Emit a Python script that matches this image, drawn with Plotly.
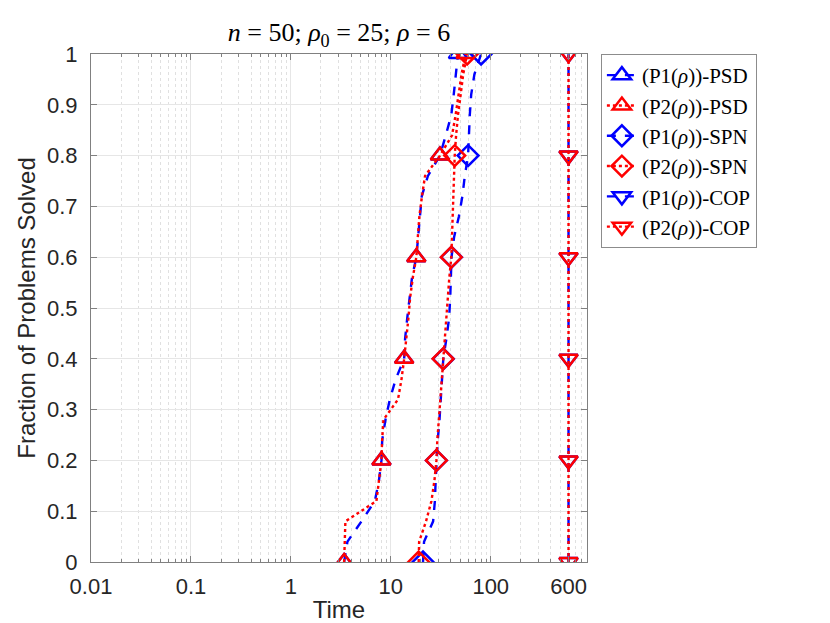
import plotly.graph_objects as go

# fraction of problems solved (y) for every curve
fraction = [0, 0.04, 0.08, 0.12, 0.16, 0.2, 0.24, 0.28, 0.32, 0.36, 0.4, 0.44, 0.48,
            0.52, 0.56, 0.6, 0.64, 0.68, 0.72, 0.76, 0.8, 0.84, 0.88, 0.92, 0.96, 1.0]

# time needed to reach each fraction
p1_psd = [3.41, 3.68, 5.08, 6.92, 7.6, 8.06, 8.2, 8.84, 9.77, 11.2, 13.6, 13.9, 14.6,
          15.3, 16.3, 18.0, 18.7, 19.4, 20.4, 23.5, 31.0, 35.5, 40.3, 42.6, 44.7, 47.0]
p2_psd = [3.41, 3.45, 3.51, 7.18, 7.64, 8.06, 8.19, 8.44, 11.8, 12.8, 13.6, 14.4, 15.0,
          15.6, 16.6, 18.0, 18.6, 19.3, 20.5, 22.0, 31.0, 41.0, 44.5, 47.5, 51.0, 56.0]
p1_spn = [21.0, 21.5, 26.5, 27.6, 28.1, 28.6, 29.5, 30.7, 31.5, 32.3, 33.5, 36.0, 38.3,
          39.3, 40.0, 40.5, 43.0, 48.0, 52.0, 55.0, 59.3, 60.3, 61.7, 63.7, 68.6, 80.0]
p2_spn = [19.0, 19.2, 22.5, 25.5, 27.3, 28.6, 29.2, 30.2, 31.0, 32.0, 33.3, 34.5, 35.8,
          37.0, 38.5, 40.3, 40.8, 41.3, 41.9, 42.6, 43.6, 45.0, 47.0, 50.0, 53.0, 58.0]
p1_cop = [600, 600, 600, 600, 600, 600, 600, 600, 600, 600, 600, 600, 600,
          600, 600, 600, 600, 600, 600, 600, 600, 600, 600, 600, 600, 600]
p2_cop = [600, 600, 600, 600, 600, 600, 600, 600, 600, 600, 600, 600, 600,
          600, 600, 600, 600, 600, 600, 600, 600, 600, 600, 600, 600, 600]

x_tickvals = [0.01, 0.1, 1, 10, 100, 600]
x_ticktext = ["0.01", "0.1", "1", "10", "100", "600"]

BLUE = "#0000ff"
RED = "#ff0000"
MARK_EVERY = 5

# minor log gridlines (2..9 in every decade), skipping the 600 major tick
minor_vals = [m * 10.0 ** e for e in range(-2, 3) for m in range(2, 10) if m * 10.0 ** e != 600]

series = [
    ("(P1(<i>ρ</i>))-PSD", p1_psd, BLUE, "dash", "triangle-up-open"),
    ("(P2(<i>ρ</i>))-PSD", p2_psd, RED, "dot", "triangle-up-open"),
    ("(P1(<i>ρ</i>))-SPN", p1_spn, BLUE, "dash", "diamond-open"),
    ("(P2(<i>ρ</i>))-SPN", p2_spn, RED, "dot", "diamond-open"),
    ("(P1(<i>ρ</i>))-COP", p1_cop, BLUE, "dash", "triangle-down-open"),
    ("(P2(<i>ρ</i>))-COP", p2_cop, RED, "dot", "triangle-down-open"),
]

fig = go.Figure()

for name, xs, colour, dash, symbol in series:
    line = dict(color=colour, width=2.4, dash=dash)
    marker = dict(symbol=symbol, size=16, color=colour, line=dict(color=colour, width=2.5))
    fig.add_trace(go.Scatter(x=xs, y=fraction, mode="lines", line=line,
                             showlegend=False, hoverinfo="skip"))
    fig.add_trace(go.Scatter(x=xs[::MARK_EVERY], y=fraction[::MARK_EVERY], mode="markers",
                             marker=marker, showlegend=False, name=name))
    # legend entry only
    fig.add_trace(go.Scatter(x=[None], y=[None], mode="lines+markers", name=name,
                             line=line, marker=marker))

axis_font = dict(family="Liberation Sans, Arial, sans-serif", size=22, color="#262626")
label_font = dict(family="Liberation Sans, Arial, sans-serif", size=24, color="#262626")

fig.update_layout(
    width=830,
    height=623,
    margin=dict(l=83, r=251, t=46, b=69),
    paper_bgcolor="white",
    plot_bgcolor="white",
    title=dict(
        text="<i>n</i> = 50; <i>ρ</i><sub>0</sub> = 25; <i>ρ</i> = 6",
        font=dict(family="Liberation Serif, serif", size=26, color="black"),
        x=0.5, xref="paper", xanchor="center",
        y=1 - 24 / 623, yanchor="middle",
    ),
    legend=dict(
        x=1.028, xanchor="left", y=1.0, yanchor="top",
        bgcolor="white", bordercolor="#8c8c8c", borderwidth=1,
        font=dict(family="Liberation Serif, serif", size=21, color="black"),
        itemwidth=30,
        tracegroupgap=0,
    ),
)

fig.update_xaxes(
    type="log",
    range=[-2, 2.963],
    tickmode="array",
    tickvals=x_tickvals,
    ticktext=x_ticktext,
    tickfont=axis_font,
    ticks="inside",
    ticklen=6,
    tickcolor="#808080",
    ticklabelstandoff=5,
    showline=True,
    linecolor="#808080",
    linewidth=1,
    mirror="allticks",
    showgrid=True,
    gridcolor="#e6e6e6",
    gridwidth=1,
    zeroline=False,
    minor=dict(tickmode="array", tickvals=minor_vals, ticks="inside", ticklen=3,
               tickcolor="#808080", showgrid=True, gridcolor="#e0e0e0",
               griddash="dot", gridwidth=1),
    title=dict(text="Time", font=label_font, standoff=2),
)

fig.update_yaxes(
    range=[0, 1],
    dtick=0.1,
    tickformat="~g",
    tickfont=axis_font,
    ticks="inside",
    ticklen=6,
    tickcolor="#808080",
    ticklabelstandoff=8,
    showline=True,
    linecolor="#808080",
    linewidth=1,
    mirror="allticks",
    showgrid=True,
    gridcolor="#e6e6e6",
    gridwidth=1,
    zeroline=False,
    title=dict(text="Fraction of Problems Solved", font=label_font, standoff=4),
)

fig.write_html("out.html")
